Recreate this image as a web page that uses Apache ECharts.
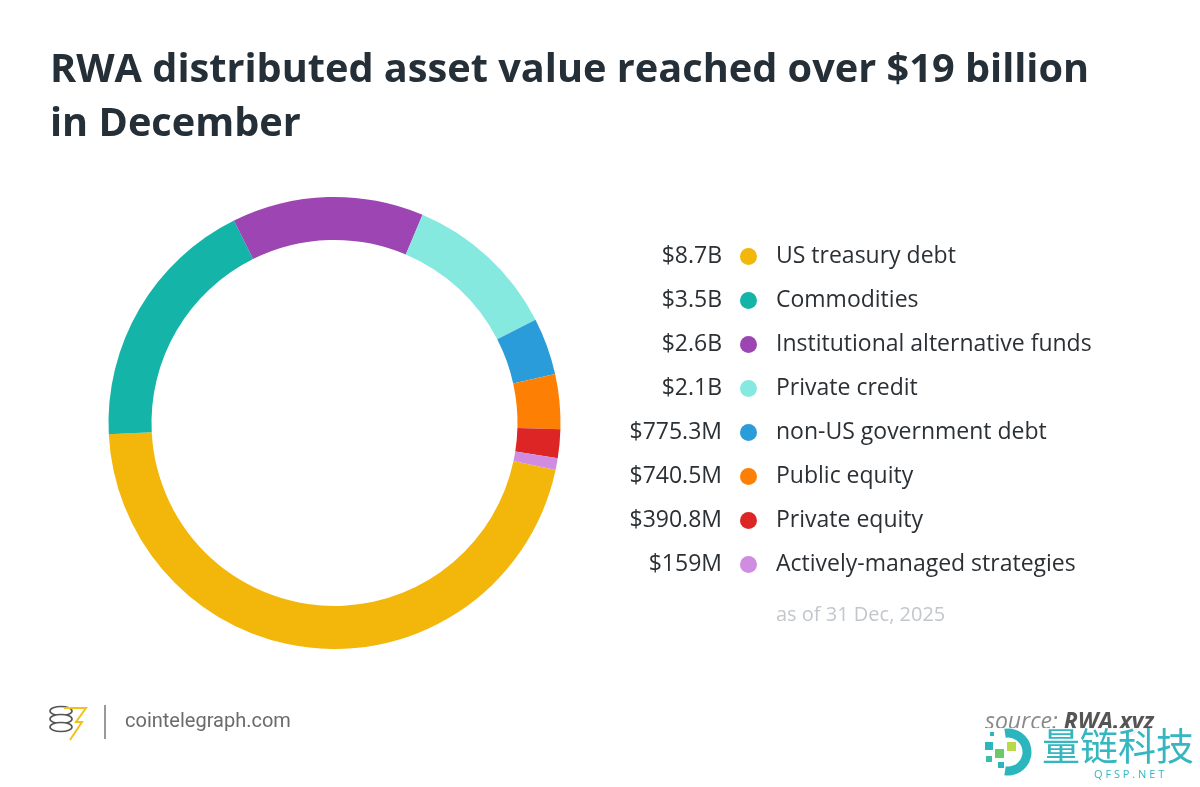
<!DOCTYPE html>
<html>
<head>
<meta charset="utf-8">
<script src="https://cdn.jsdelivr.net/npm/echarts@6/dist/echarts.min.js"></script>
<style>
  html, body { margin: 0; padding: 0; background: #fff; }
  #chart { width: 1200px; height: 787px; }
</style>
</head>
<body>
<div id="chart"></div>
<script>
// data (billions of dollars)
var categories = ['US treasury debt', 'Commodities', 'Institutional alternative funds', 'Private credit',
  'non-US government debt', 'Public equity', 'Private equity', 'Actively-managed strategies'];
var values = [8.7, 3.5, 2.6, 2.1, 0.7753, 0.7405, 0.3908, 0.159];
var valueLabels = ['$8.7B', '$3.5B', '$2.6B', '$2.1B', '$775.3M', '$740.5M', '$390.8M', '$159M'];
var colors = ['#f3b60b', '#14b4a8', '#9d45b3', '#85e9e0', '#2b9cda', '#fd8004', '#de2525', '#cf8ce1'];

var legendTop = 243.5;
var rowH = 44;
var itemH = 26;

var byId = function(id) {
  return document.getElementById(id);
};

// value column to the left of the legend dots
var valueTexts = valueLabels.map(function(v, i) {
  return {
    type: 'text',
    x: 722,
    y: legendTop + itemH / 2 + i * rowH,
    style: {
      text: v,
      fill: '#2b3035',
      font: '23px "Open Sans"',
      align: 'right',
      verticalAlign: 'middle'
    }
  };
});

var footer = [
  // cointelegraph logo (rough)
  { type: 'ellipse', shape: { cx: 61, cy: 711, rx: 11, ry: 4.5 }, style: { fill: '#fff', stroke: '#555', lineWidth: 1.6 } },
  { type: 'ellipse', shape: { cx: 61, cy: 719, rx: 11, ry: 4.5 }, style: { fill: '#fff', stroke: '#555', lineWidth: 1.6 } },
  { type: 'ellipse', shape: { cx: 61, cy: 727, rx: 11, ry: 4.5 }, style: { fill: '#fff', stroke: '#555', lineWidth: 1.6 } },
  { type: 'polyline', shape: { points: [[64, 708], [86, 708], [76, 722], [82, 722], [70, 740]] }, style: { fill: 'none', stroke: '#f2c21b', lineWidth: 2 } },
  { type: 'line', shape: { x1: 105, y1: 705, x2: 105, y2: 739 }, style: { stroke: '#777', lineWidth: 1.5 } },
  { type: 'text', left: 125, top: 712, style: { text: 'cointelegraph.com', fill: '#6b6b6b', font: '20px Roboto' } },
  { type: 'text', left: 985, top: 711, style: {
      text: '{a|source: }{b|RWA.xyz}',
      rich: {
        a: { fill: '#8a8a8a', font: 'italic 23px "Open Sans"' },
        b: { fill: '#555', font: 'italic bold 23px "Open Sans"' }
      }
  } },
  // watermark over the corner
  { type: 'rect', shape: { x: 970, y: 728, width: 230, height: 60 }, style: { fill: 'rgba(255,255,255,0.93)' } },
  { type: 'arc', shape: { cx: 1008, cy: 752, r: 19, startAngle: -Math.PI * 0.55, endAngle: Math.PI * 0.55 }, style: { stroke: '#2bb5bd', lineWidth: 9, fill: 'none' } },
  { type: 'rect', shape: { x: 985, y: 742, width: 8, height: 8 }, style: { fill: '#2bb5bd' } },
  { type: 'rect', shape: { x: 995, y: 749, width: 9, height: 9 }, style: { fill: '#6cc96a' } },
  { type: 'rect', shape: { x: 1007, y: 742, width: 9, height: 9 }, style: { fill: '#b9d84a' } },
  { type: 'rect', shape: { x: 986, y: 756, width: 6, height: 6 }, style: { fill: '#3cbfa8' } },
  { type: 'rect', shape: { x: 998, y: 762, width: 6, height: 6 }, style: { fill: '#2bb5bd' } },
  { type: 'rect', shape: { x: 990, y: 732, width: 4, height: 4 }, style: { fill: '#2bb5bd' } },
  { type: 'text', left: 1042, top: 727, style: { text: '量链科技', fill: '#35b6c0', font: '38px "Noto Sans CJK SC"' } },
  { type: 'text', left: 1094, top: 769, style: { text: 'Q F S P . N E T', fill: '#35b6c0', font: '11px "Open Sans"' } }
];

var chartOption = {
  backgroundColor: '#fff',
  animation: false,
  title: {
    text: 'RWA distributed asset value reached over $19 billion\nin December',
    left: 50,
    top: 44,
    padding: 0,
    textStyle: {
      fontFamily: 'Open Sans',
      fontSize: 39.7,
      fontWeight: 'bold',
      lineHeight: 54,
      color: '#252f38'
    }
  },
  legend: {
    orient: 'vertical',
    left: 740,
    top: legendTop,
    padding: 0,
    icon: 'circle',
    itemWidth: 17,
    itemHeight: 17,
    itemGap: rowH - itemH,
    selectedMode: false,
    data: categories,
    textStyle: {
      fontFamily: 'Open Sans',
      fontSize: 23,
      lineHeight: itemH,
      color: '#2b3035',
      padding: [0, 0, 0, 14]
    }
  },
  color: colors,
  series: [{
    type: 'pie',
    center: [334.5, 423],
    radius: [183, 226],
    startAngle: -12,
    clockwise: true,
    label: { show: false },
    labelLine: { show: false },
    emphasis: { disabled: true },
    silent: true,
    data: categories.map(function(c, i) {
      return { name: c, value: values[i] };
    })
  }],
  graphic: valueTexts.concat(footer).concat([
    { type: 'text', left: 776, top: 605, style: { text: 'as of 31 Dec, 2025', fill: '#c3c7cb', font: '20px "Open Sans"' } }
  ])
};

var pieChart = echarts.init(byId('chart'));
pieChart.setOption(chartOption);
</script>
</body>
</html>
